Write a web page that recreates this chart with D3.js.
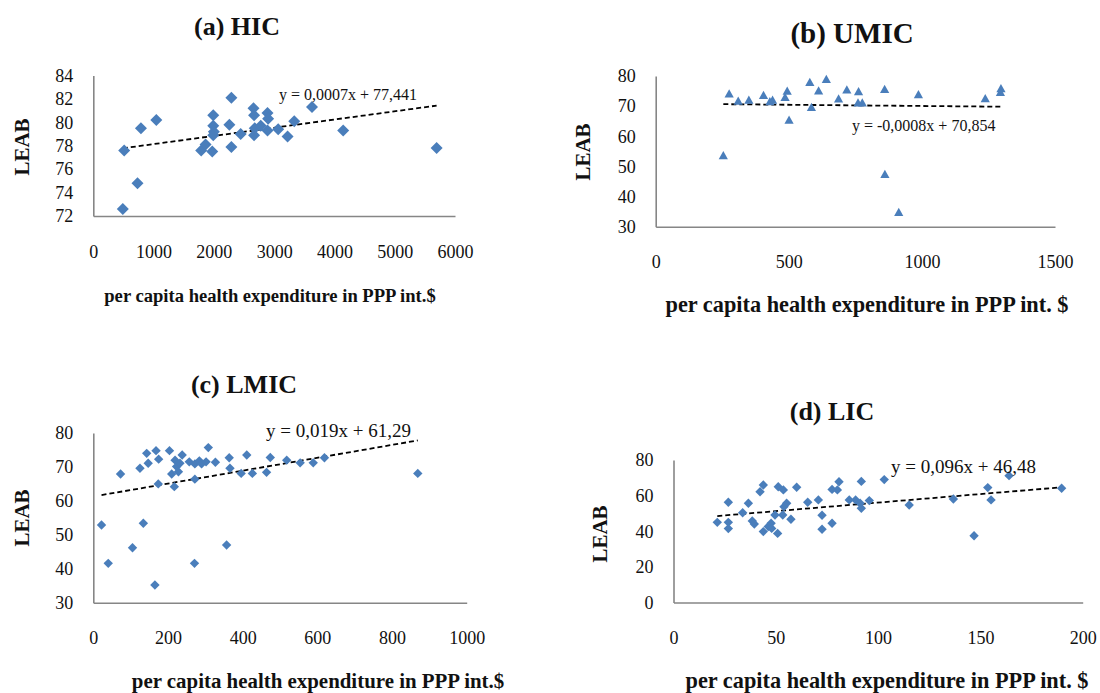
<!DOCTYPE html>
<html><head><meta charset="utf-8">
<script src="https://cdn.jsdelivr.net/npm/d3@7"></script>
<style>body{margin:0;background:#fff} svg text{font-family:"Liberation Serif","Times New Roman",serif;fill:#111}</style>
</head><body><svg id="c" width="1100" height="693"></svg>
<script>
// ---------- data ----------
const hicX = [490,733,512,790,1045,1790,1862,1973,1990,1990,2000,1990,2290,2257,2290,2445,2657,2667,2667,2678,2778,2890,2900,2890,3067,3223,3333,3628,4145,5695];
const hicY = [72.6,74.8,77.6,79.5,80.2,77.6,78.1,77.5,80.6,79.7,79.2,78.9,82.1,79.8,77.9,79.0,81.2,80.6,78.9,79.5,79.7,80.8,80.3,79.3,79.4,78.8,80.1,81.3,79.3,77.8];
const hicXTicks = [0,1000,2000,3000,4000,5000,6000];
const hicYTicks = [72,74,76,78,80,82,84];
const hicTrend = [0.0007, 77.441];

const umicX = [254,276,310,350,405,429,439,486,494,501,579,585,612,641,687,718,762,760,776,860,861,913,987,1238,1297,1295];
const umicY = [53.6,74.1,71.7,72.0,73.6,71.5,72.0,72.9,75.0,65.4,77.9,69.6,75.1,78.9,72.4,75.4,74.8,71.1,71.1,75.6,47.4,34.8,73.8,72.5,75.8,74.6];
const umicXTicks = [0,500,1000,1500];
const umicYTicks = [30,40,50,60,70,80];
const umicTrend = [-0.0008, 70.854];

const lmicX = [22,40,73,105,125,134,143,147,165,168,175,174,204,210,217,219,223,228,232,238,257,272,272,271,284,290,302,308,327,357,364,366,396,411,426,464,474,518,554,589,619,869];
const lmicY = [52.9,41.6,67.9,46.2,69.6,53.4,74.0,71.1,35.2,74.8,72.3,65.0,74.8,67.9,64.2,72.0,70.1,68.6,71.1,73.5,71.5,70.9,66.4,41.6,71.8,70.9,71.5,75.7,71.4,47.0,72.7,69.6,68.1,73.5,68.1,68.4,72.8,72.0,71.2,71.2,72.7,68.1];
const lmicXTicks = [0,200,400,600,800,1000];
const lmicYTicks = [30,40,50,60,70,80];
const lmicTrend = [0.019, 61.29];

const licX = [21.4,26.8,26.8,26.8,33.8,36.6,38.5,39.5,42.3,43.9,43.9,46.3,47.7,48,49.6,50.9,51.2,53.7,53.4,54,55.3,57.4,60.2,65.6,70.8,72.6,72.6,77.5,77.5,80.1,80.9,85.9,89,91.2,91.8,91.8,95.7,103,115.2,136.8,146.9,153.6,155.2,164,189.7];
const licY = [45.0,56.3,45.0,41.5,50.4,55.7,45.8,44.1,62.2,66.0,39.8,42.6,44.5,41.6,49.1,38.8,65.0,63.2,49.1,53.8,55.7,46.7,64.7,56.3,57.6,49.0,41.1,44.5,63.5,63.2,67.8,57.6,57.6,55.7,52.9,68.0,57.2,69.0,54.7,58.1,37.5,64.5,57.6,71.2,64.1];
const licXTicks = [0,50,100,150,200];
const licYTicks = [0,20,40,60,80];
const licTrend = [0.096, 46.48];

const titles = ["(a) HIC","(b) UMIC","(c) LMIC","(d) LIC"];
const equations = ["y = 0,0007x + 77,441","y = -0,0008x + 70,854","y = 0,019x + 61,29","y = 0,096x + 46,48"];
const xTitles = ["per capita health expenditure in PPP int.$","per capita health expenditure in PPP int. $","per capita health expenditure in PPP int.$","per capita health expenditure in PPP int. $"];
const yTitle = "LEAB";

// ---------- layout ----------
const panels = [
  {xs:hicX, ys:hicY, xt:hicXTicks, yt:hicYTicks, tr:hicTrend, xd:[0,6000], yd:[72,84],
   xr:[93.3,455], yr:[216,75.5], marker:"diamond", ms:6,
   title:[237,35,26], xtitle:[270,302,18.6], ytitle:[22,147,21], eq:[279,100,16]},
  {xs:umicX, ys:umicY, xt:umicXTicks, yt:umicYTicks, tr:umicTrend, xd:[0,1500], yd:[30,80],
   xr:[655.7,1055], yr:[226.7,76], marker:"triangle", ms:4.6,
   title:[852,43,29], xtitle:[867,312,22.3], ytitle:[583,152,21], eq:[852,131,16]},
  {xs:lmicX, ys:lmicY, xt:lmicXTicks, yt:lmicYTicks, tr:lmicTrend, xd:[0,1000], yd:[30,80],
   xr:[93.3,466.7], yr:[602.7,433], marker:"diamond", ms:4.7,
   title:[244,393,26], xtitle:[318,688,20.9], ytitle:[22,518,21], eq:[266,437,19]},
  {xs:licX, ys:licY, xt:licXTicks, yt:licYTicks, tr:licTrend, xd:[0,200], yd:[0,80],
   xr:[673.5,1082.7], yr:[602.5,460], marker:"diamond", ms:4.7,
   title:[832,420,26], xtitle:[887,688,22.3], ytitle:[600,534,21], eq:[891,473,19]}
];

const svg = d3.select("#c");
svg.append("rect").attr("width",1100).attr("height",693).attr("fill","#fff");
const blue = "#4a7ebb", axisGrey = "#868686";

panels.forEach((p,i)=>{
  const x = d3.scaleLinear().domain(p.xd).range(p.xr);
  const y = d3.scaleLinear().domain(p.yd).range(p.yr);
  const g = svg.append("g");

  const gx = g.append("g").attr("transform",`translate(0,${p.yr[0]})`)
    .call(d3.axisBottom(x).tickValues(p.xt).tickSize(0).tickSizeOuter(0).tickPadding(29).tickFormat(d3.format("d")));
  const gy = g.append("g").attr("transform",`translate(${p.xr[0]},0)`)
    .call(d3.axisLeft(y).tickValues(p.yt).tickSize(0).tickSizeOuter(0).tickPadding(20).tickFormat(d3.format("d")));
  [gx,gy].forEach(a=>{
    a.attr("font-family",null).attr("font-size",null);
    a.select(".domain").attr("stroke",axisGrey).attr("stroke-width",1.6);
    a.selectAll("text").style("font-size","18px").attr("fill","#111");
  });

  // trendline
  const [m,b] = p.tr;
  const x0 = d3.min(p.xs), x1 = d3.max(p.xs);
  g.append("line")
    .attr("x1",x(x0)).attr("y1",y(m*x0+b)).attr("x2",x(x1)).attr("y2",y(m*x1+b))
    .attr("stroke","#000").attr("stroke-width",1.8).attr("stroke-dasharray","5,3");

  // markers
  const s = p.ms;
  const path = p.marker==="diamond"
    ? `M0,${-s}L${s},0L0,${s}L${-s},0Z`
    : `M0,${-s}L${s*1.0},${s*0.8}L${-s*1.0},${s*0.8}Z`;
  g.append("g").selectAll("path").data(p.xs.map((v,k)=>[v,p.ys[k]])).join("path")
    .attr("d",path).attr("transform",d=>`translate(${x(d[0])},${y(d[1])})`)
    .attr("fill",blue);

  // texts
  g.append("text").attr("x",p.title[0]).attr("y",p.title[1]).attr("text-anchor","middle")
    .style("font-size",p.title[2]+"px").style("font-weight","bold").text(titles[i]);
  g.append("text").attr("x",p.xtitle[0]).attr("y",p.xtitle[1]).attr("text-anchor","middle")
    .style("font-size",p.xtitle[2]+"px").style("font-weight","bold").text(xTitles[i]);
  g.append("text").attr("transform",`translate(${p.ytitle[0]},${p.ytitle[1]}) rotate(-90)`)
    .attr("dy","0.35em").attr("text-anchor","middle")
    .style("font-size",p.ytitle[2]+"px").style("font-weight","bold").text(yTitle);
  g.append("text").attr("x",p.eq[0]).attr("y",p.eq[1])
    .style("font-size",p.eq[2]+"px").text(equations[i]);
});
</script></body></html>
